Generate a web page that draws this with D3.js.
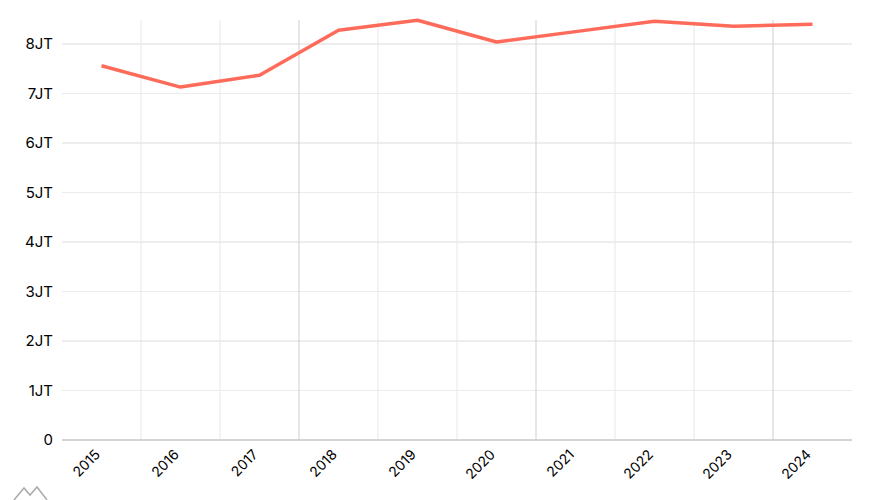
<!DOCTYPE html>
<html>
<head>
<meta charset="utf-8">
<script src="https://cdn.jsdelivr.net/npm/d3@7"></script>
<style>
  body { margin: 0; background: #fff; }
  text { font-family: Inter, "Noto Sans", sans-serif; }
</style>
</head>
<body>
<div id="chart"></div>
<script>
const years = ["2015", "2016", "2017", "2018", "2019", "2020", "2021", "2022", "2023", "2024"];
const values = [7.56, 7.13, 7.37, 8.28, 8.48, 8.04, 8.25, 8.46, 8.36, 8.40];
const yTicks = [0, 1, 2, 3, 4, 5, 6, 7, 8];
const yTickLabels = ["0", "1JT", "2JT", "3JT", "4JT", "5JT", "6JT", "7JT", "8JT"];

const width = 873, height = 500;
const margin = { top: 20, right: 21, bottom: 60, left: 62 };
const innerW = width - margin.left - margin.right;
const innerH = height - margin.top - margin.bottom;

const svg = d3.select("#chart").append("svg")
    .attr("width", width)
    .attr("height", height);

const g = svg.append("g")
    .attr("transform", `translate(${margin.left}, ${margin.top})`);

const x = d3.scaleBand().domain(years).range([0, innerW]);
const y = d3.scaleLinear().domain([0, 8.485]).range([innerH, 0]);

// horizontal grid
g.selectAll(".hgrid").data(yTicks).enter().append("line")
    .attr("x1", 0).attr("x2", innerW)
    .attr("y1", d => y(d)).attr("y2", d => y(d))
    .attr("stroke", (d, i) => i % 2 ? "#ebebeb" : "#dcdcdc")
    .attr("stroke-width", 1);

// vertical grid at band boundaries
g.selectAll(".vgrid").data(years.slice(1)).enter().append("line")
    .attr("x1", d => x(d)).attr("x2", d => x(d))
    .attr("y1", 0).attr("y2", innerH)
    .attr("stroke", (d, i) => i % 3 === 2 ? "#cfcfcf" : "#e8e8e8")
    .attr("stroke-width", 1);

// baseline
g.append("line")
    .attr("x1", 0).attr("x2", innerW)
    .attr("y1", innerH).attr("y2", innerH)
    .attr("stroke", "#bcbcbc");

// y labels
g.selectAll(".ylab").data(yTicks).enter().append("text")
    .attr("x", -9)
    .attr("y", d => y(d))
    .attr("dy", "0.35em")
    .attr("text-anchor", "end")
    .attr("font-size", 15)
    .attr("fill", "#000")
    .text((d, i) => yTickLabels[i]);

// x labels
g.selectAll(".xlab").data(years).enter().append("text")
    .attr("transform", d => `translate(${x(d) + x.bandwidth() / 2 - 4}, ${innerH + 12}) rotate(-45)`)
    .attr("text-anchor", "end")
    .attr("dy", "0.35em")
    .attr("font-size", 14)
    .attr("fill", "#000")
    .text(d => d);

// line
const line = d3.line()
    .x((d, i) => x(years[i]) + x.bandwidth() / 2)
    .y(d => y(d));

g.append("path")
    .datum(values)
    .attr("fill", "none")
    .attr("stroke", "#ff6b5a")
    .attr("stroke-width", 3.5)
    .attr("stroke-linejoin", "round")
    .attr("d", line);

// small logo mark bottom-left
svg.append("path")
    .attr("d", "M14,500 L24,488 L30,495 L37,487 L47,500")
    .attr("fill", "none")
    .attr("stroke", "#aaa")
    .attr("stroke-width", 1.5);
</script>
</body>
</html>
